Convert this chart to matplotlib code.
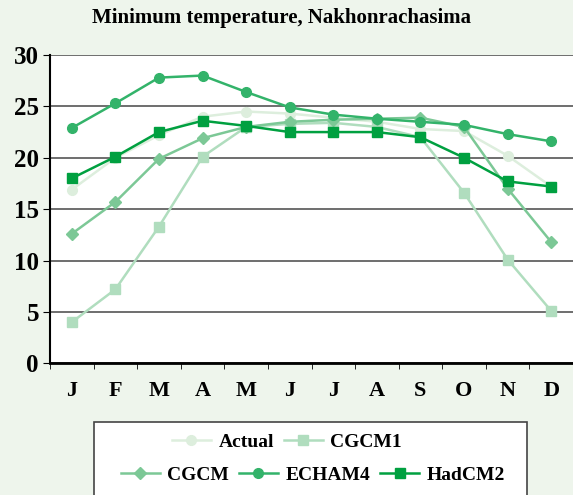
import numpy as np
import matplotlib
matplotlib.use('Agg')
import matplotlib.pyplot as plt
from matplotlib.patches import Rectangle

plt.rcParams['font.family'] = 'Liberation Serif'
plt.rcParams['font.weight'] = 'bold'

months = ['J', 'F', 'M', 'A', 'M', 'J', 'J', 'A', 'S', 'O', 'N', 'D']

actual = [16.9, 20.0, 22.2, 24.0, 24.5, 24.3, 23.9, 23.5, 22.8, 22.6, 20.2, 17.2]
cgcm1 = [4.0, 7.2, 13.3, 20.1, 23.0, 23.3, 23.4, 23.0, 22.0, 16.6, 10.1, 5.1]
cgcm = [12.6, 15.7, 19.9, 21.9, 23.0, 23.5, 23.7, 23.8, 23.9, 23.0, 17.0, 11.8]
echam4 = [22.9, 25.3, 27.8, 28.0, 26.4, 24.9, 24.2, 23.8, 23.5, 23.2, 22.3, 21.6]
hadcm2 = [18.0, 20.1, 22.5, 23.6, 23.1, 22.5, 22.5, 22.5, 22.0, 20.0, 17.7, 17.2]

bg = '#EEF5EC'
fig = plt.figure(figsize=(5.73, 4.95), dpi=100, facecolor=bg)
ax = fig.add_axes([50 / 573, 1 - 363.3 / 495, 523 / 573, 308.3 / 495])
ax.set_facecolor('white')

x = np.arange(len(months))
series = [
    ('Actual', actual, '#DDEEDD', 'o', 7),
    ('CGCM1', cgcm1, '#B0DDBE', 's', 7),
    ('CGCM', cgcm, '#7CC896', 'D', 6),
    ('ECHAM4', echam4, '#33B36A', 'o', 7),
    ('HadCM2', hadcm2, '#00A040', 's', 7),
]
lines = {}
for name, vals, col, mk, ms in series:
    ln, = ax.plot(x, vals, color=col, marker=mk, markersize=ms, linewidth=1.8,
                  label=name, clip_on=False)
    lines[name] = ln

ax.set_xlim(-0.5, 11.5)
ax.set_ylim(0, 30)
ax.set_yticks(range(0, 31, 5))
ax.set_xticks(x)
ax.set_xticklabels(months)
ax.set_xticks(np.arange(-0.5, 11.6, 1), minor=True)
ax.tick_params(axis='x', which='major', length=0, labelsize=16, pad=13)
ax.tick_params(axis='x', which='minor', length=4, direction='out', color='black')
ax.tick_params(axis='y', labelsize=18, length=5, direction='out', pad=3)
for lab in ax.get_xticklabels() + ax.get_yticklabels():
    lab.set_fontweight('bold')

ax.yaxis.grid(True, color='#555555', linewidth=1.2)
ax.set_axisbelow(True)
for s in ['top', 'right']:
    ax.spines[s].set_visible(False)
ax.spines['left'].set_linewidth(1.5)
ax.spines['bottom'].set_linewidth(2)

fig.text(282 / 573, 1 - 18 / 495, 'Minimum temperature, Nakhonrachasima',
         ha='center', va='center', fontsize=15, fontweight='bold')

# legend box
fig.patches.append(Rectangle((94 / 573, -0.05), 433 / 573, 0.05 + (495 - 422) / 495,
                             transform=fig.transFigure, facecolor='white',
                             edgecolor='#444444', linewidth=1.2))
leg1 = fig.legend([lines['Actual'], lines['CGCM1']], ['Actual', 'CGCM1'],
                  loc='center', bbox_to_anchor=(287 / 573, 1 - 442 / 495), ncol=2,
                  frameon=False, handlelength=2.0, columnspacing=0.5,
                  handletextpad=0.4, prop={'weight': 'bold', 'size': 14})
leg2 = fig.legend([lines['CGCM'], lines['ECHAM4'], lines['HadCM2']],
                  ['CGCM', 'ECHAM4', 'HadCM2'],
                  loc='center', bbox_to_anchor=(313 / 573, 1 - 475 / 495), ncol=3,
                  frameon=False, handlelength=2.0, columnspacing=0.5,
                  handletextpad=0.4, prop={'weight': 'bold', 'size': 14})

fig.savefig('out.png', dpi=100, facecolor=bg)
